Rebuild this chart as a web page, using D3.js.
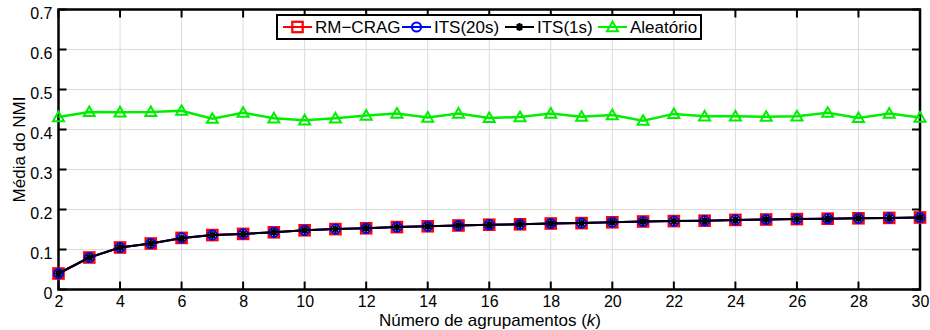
<!DOCTYPE html>
<html>
<head>
<meta charset="utf-8">
<script src="https://cdn.jsdelivr.net/npm/d3@7"></script>
<style>
  html, body { margin: 0; padding: 0; background: #fff; }
  svg { display: block; font-family: "Liberation Sans", Arial, sans-serif; }
</style>
</head>
<body>
<svg id="chart" width="930" height="330"></svg>
<script>
// Number of clusters k
const kValues = d3.range(2, 31);

// Mean NMI per method
const rmCrag = [0.040, 0.080, 0.105, 0.115, 0.129, 0.136, 0.139, 0.143, 0.148, 0.151,
                0.153, 0.156, 0.158, 0.160, 0.162, 0.163, 0.165, 0.166, 0.168, 0.170,
                0.171, 0.172, 0.174, 0.175, 0.176, 0.177, 0.178, 0.179, 0.180];
const its20s = [0.040, 0.080, 0.105, 0.115, 0.129, 0.136, 0.139, 0.143, 0.148, 0.151,
                0.153, 0.156, 0.158, 0.160, 0.162, 0.163, 0.165, 0.166, 0.168, 0.170,
                0.171, 0.172, 0.174, 0.175, 0.176, 0.177, 0.178, 0.179, 0.180];
const its1s = [0.040, 0.080, 0.105, 0.115, 0.128, 0.136, 0.139, 0.143, 0.148, 0.151,
               0.153, 0.156, 0.158, 0.160, 0.162, 0.163, 0.165, 0.166, 0.168, 0.170,
               0.171, 0.172, 0.174, 0.175, 0.176, 0.177, 0.178, 0.179, 0.180];
const aleatorio = [0.431, 0.444, 0.443, 0.444, 0.447, 0.427, 0.442, 0.428, 0.423, 0.428,
                   0.435, 0.440, 0.430, 0.440, 0.429, 0.431, 0.440, 0.432, 0.436, 0.422,
                   0.439, 0.433, 0.433, 0.432, 0.433, 0.442, 0.429, 0.440, 0.430];

const xTicks = d3.range(2, 31, 2);
const yTicks = [0, 0.1, 0.2, 0.3, 0.4, 0.5, 0.6, 0.7];
const yTickLabels = ["0", "0.1", "0.2", "0.3", "0.4", "0.5", "0.6", "0.7"];

const seriesNames = ["RM\u2212CRAG", "ITS(20s)", "ITS(1s)", "Aleatório"];
const seriesColors = ["#ff0000", "#0000ff", "#000000", "#00ee00"];
const seriesMarkers = ["square", "circle", "asterisk", "triangle"];
const seriesValues = [rmCrag, its20s, its1s, aleatorio];

const margin = { left: 58.5, right: 10, top: 9.5, bottom: 40.5 };
const W = 930, H = 330;
const svg = d3.select("#chart");

const x = d3.scaleLinear().domain([2, 30]).range([margin.left, W - margin.right]);
const y = d3.scaleLinear().domain([0, 0.7]).range([H - margin.bottom, margin.top]);

// grid
const grid = svg.append("g");
grid.selectAll("line.gx").data(xTicks.slice(1, -1)).join("line")
  .attr("x1", d => x(d)).attr("x2", d => x(d))
  .attr("y1", y(0)).attr("y2", y(0.7))
  .attr("stroke", "#dcdcdc").attr("stroke-width", 1);
grid.selectAll("line.gy").data(yTicks.slice(1, -1)).join("line")
  .attr("y1", d => y(d)).attr("y2", d => y(d))
  .attr("x1", x(2)).attr("x2", x(30))
  .attr("stroke", "#dcdcdc").attr("stroke-width", 1);

// axes
const tickLen = 8;
const bottomAxis = d3.axisBottom(x).tickValues(xTicks).tickSize(0).tickPadding(6);
const leftAxis = d3.axisLeft(y).tickValues(yTicks).tickSize(0).tickPadding(6)
  .tickFormat((d, i) => yTickLabels[i]);

const gx = svg.append("g").attr("transform", `translate(0,${y(0)})`).call(bottomAxis);
const gy = svg.append("g").attr("transform", `translate(${x(2)},0)`).call(leftAxis);
[gx, gy].forEach(g => {
  g.select(".domain").remove();
  g.selectAll("text").attr("font-size", 16).attr("fill", "#000")
    .attr("font-family", "'Liberation Sans', Arial, sans-serif");
});
gy.selectAll("text").attr("dy", "0.55em");

// inward ticks on all four sides
const ticks = svg.append("g").attr("stroke", "#000").attr("stroke-width", 2);
xTicks.forEach(t => {
  ticks.append("line").attr("x1", x(t)).attr("x2", x(t)).attr("y1", y(0)).attr("y2", y(0) - tickLen);
  ticks.append("line").attr("x1", x(t)).attr("x2", x(t)).attr("y1", y(0.7)).attr("y2", y(0.7) + tickLen);
});
yTicks.forEach(t => {
  ticks.append("line").attr("x1", x(2)).attr("x2", x(2) + tickLen).attr("y1", y(t)).attr("y2", y(t));
  ticks.append("line").attr("x1", x(30)).attr("x2", x(30) - tickLen).attr("y1", y(t)).attr("y2", y(t));
});

// frame
svg.append("rect")
  .attr("x", x(2)).attr("y", y(0.7))
  .attr("width", x(30) - x(2)).attr("height", y(0) - y(0.7))
  .attr("fill", "none").attr("stroke", "#000").attr("stroke-width", 2.5);

// marker drawing
function drawMarker(g, type, color, cx, cy) {
  if (type === "square") {
    g.append("rect").attr("x", cx - 5.2).attr("y", cy - 5.2).attr("width", 10.4).attr("height", 10.4)
      .attr("fill", "none").attr("stroke", color).attr("stroke-width", 2.2);
  } else if (type === "circle") {
    g.append("circle").attr("cx", cx).attr("cy", cy).attr("r", 4.6)
      .attr("fill", "none").attr("stroke", color).attr("stroke-width", 2);
  } else if (type === "asterisk") {
    const r = 3.9;
    const p = [];
    for (let a = 0; a < 4; a++) {
      const ang = a * Math.PI / 4;
      p.push(`M${cx - r * Math.cos(ang)},${cy - r * Math.sin(ang)}L${cx + r * Math.cos(ang)},${cy + r * Math.sin(ang)}`);
    }
    g.append("path").attr("d", p.join("")).attr("stroke", color).attr("stroke-width", 2)
      .attr("fill", "none");
  } else if (type === "triangle") {
    const s = 5.5;
    g.append("path")
      .attr("d", `M${cx},${cy - s}L${cx + s},${cy + s * 0.75}L${cx - s},${cy + s * 0.75}Z`)
      .attr("fill", "none").attr("stroke", color).attr("stroke-width", 2);
  }
}

// series lines and markers
const line = d3.line().x((d, i) => x(kValues[i])).y(d => y(d));
seriesValues.forEach((vals, si) => {
  const g = svg.append("g");
  g.append("path").datum(vals).attr("d", line)
    .attr("fill", "none").attr("stroke", seriesColors[si])
    .attr("stroke-width", si === 3 ? 2.5 : 2);
  vals.forEach((v, i) => drawMarker(g, seriesMarkers[si], seriesColors[si], x(kValues[i]), y(v)));
});

// axis titles
svg.append("text")
  .attr("x", 490).attr("y", 326)
  .attr("text-anchor", "middle").attr("font-size", 17)
  .html('Número de agrupamentos (<tspan font-style="italic">k</tspan>)');
svg.append("text")
  .attr("transform", `translate(25,${(y(0) + y(0.7)) / 2}) rotate(-90)`)
  .attr("text-anchor", "middle").attr("font-size", 17)
  .text("Média do NMI");

// legend
const legend = svg.append("g");
legend.append("rect").attr("x", 277).attr("y", 15).attr("width", 424).attr("height", 24)
  .attr("fill", "#fff").attr("stroke", "#000").attr("stroke-width", 2);
const legendX = [283, 402, 505, 598];
seriesNames.forEach((name, i) => {
  const lx = legendX[i];
  legend.append("line").attr("x1", lx).attr("x2", lx + 29).attr("y1", 27).attr("y2", 27)
    .attr("stroke", seriesColors[i]).attr("stroke-width", 2);
  drawMarker(legend, seriesMarkers[i], seriesColors[i], lx + 14.5, 27);
  legend.append("text").attr("x", lx + 32).attr("y", 33.3).attr("font-size", 17).text(name);
});
</script>
</body>
</html>
